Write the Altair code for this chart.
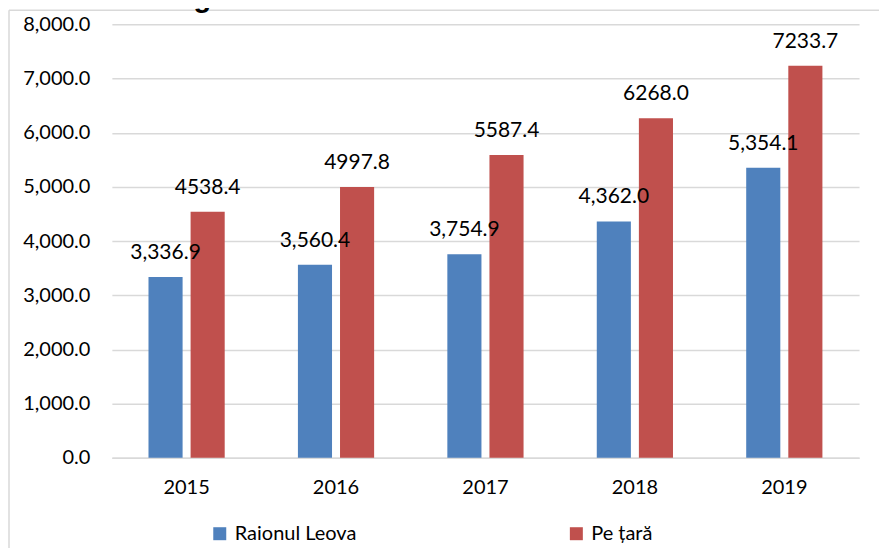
import altair as alt
import pandas as pd

years = ["2015", "2016", "2017", "2018", "2019"]
leova = [3336.9, 3560.4, 3754.9, 4362.0, 5354.1]
tara = [4538.4, 4997.8, 5587.4, 6268.0, 7233.7]
series = ["Raionul Leova", "Pe țară"]
colors = ["#4F81BD", "#C0504D"]
y_ticks = [0, 1000, 2000, 3000, 4000, 5000, 6000, 7000, 8000]

rows = []
for i, yr in enumerate(years):
    rows.append({"year": yr, "series": series[0], "value": leova[i], "label": f"{leova[i]:,.1f}"})
    rows.append({"year": yr, "series": series[1], "value": tara[i], "label": f"{tara[i]:.1f}"})
df = pd.DataFrame(rows)

FONT = "Lato"

base = alt.Chart(df).encode(
    x=alt.X(
        "year:N",
        sort=years,
        scale=alt.Scale(paddingInner=0.49, paddingOuter=0.245),
        axis=alt.Axis(
            title=None, labelAngle=0, ticks=False, domain=True,
            domainColor="#d9d9d9", domainWidth=1.5, grid=False,
            labelFont=FONT, labelFontSize=20, labelColor="#000000", labelPadding=20,
        ),
    ),
    xOffset=alt.XOffset("series:N", sort=series,
                        scale=alt.Scale(domain=series, paddingInner=0.19, paddingOuter=0)),
    y=alt.Y(
        "value:Q",
        scale=alt.Scale(domain=[0, 8000], nice=False),
        axis=alt.Axis(
            title=None, values=y_ticks, format=",.1f", ticks=False, domain=False,
            grid=True, gridColor="#d9d9d9", gridWidth=1.5,
            labelFont=FONT, labelFontSize=20, labelColor="#000000", labelPadding=22,
        ),
    ),
)

bars = base.mark_bar().encode(
    color=alt.Color(
        "series:N",
        sort=series,
        scale=alt.Scale(domain=series, range=colors),
        legend=alt.Legend(
            title=None, orient="none", legendX=98, legendY=500, direction="horizontal",
            symbolType="square", symbolSize=169, symbolStrokeWidth=0,
            labelFont=FONT, labelFontSize=20, labelColor="#000000", labelOffset=5,
            labelLimit=300, columnPadding=210, padding=0,
        ),
    )
)

labels = base.mark_text(baseline="middle", dy=-24, font=FONT, fontSize=21, color="#000000").encode(
    text="label:N"
)

one = alt.Data(values=[{}])
frame_top = alt.Chart(one).mark_rule(color="#d9d9d9", strokeWidth=1.5).encode(
    x=alt.value(-103), x2=alt.value(800), y=alt.value(-14)
)
frame_left = alt.Chart(one).mark_rule(color="#d9d9d9", strokeWidth=1.5).encode(
    x=alt.value(-103), y=alt.value(-14), y2=alt.value(600)
)
title_bold = alt.Chart(one).mark_text(
    text="Figura 11.", font="Liberation Sans", fontSize=29, fontWeight="bold",
    align="left", baseline="alphabetic", color="#000000",
).encode(x=alt.value(56), y=alt.value(-17))
title_rest = alt.Chart(one).mark_text(
    text="Dinamica salariului în 2015-2019", font="Liberation Sans", fontSize=29,
    align="left", baseline="alphabetic", color="#000000",
).encode(x=alt.value(205), y=alt.value(-17))

chart = alt.layer(frame_top, frame_left, title_bold, title_rest, bars, labels).properties(
    width=748, height=434,
    autosize=alt.AutoSizeParams(type="none"),
    padding={"left": 104, "top": 16, "right": 20, "bottom": 100},
).configure_view(stroke=None)

chart.save("out.html", embed_options={"renderer": "svg", "actions": False})
